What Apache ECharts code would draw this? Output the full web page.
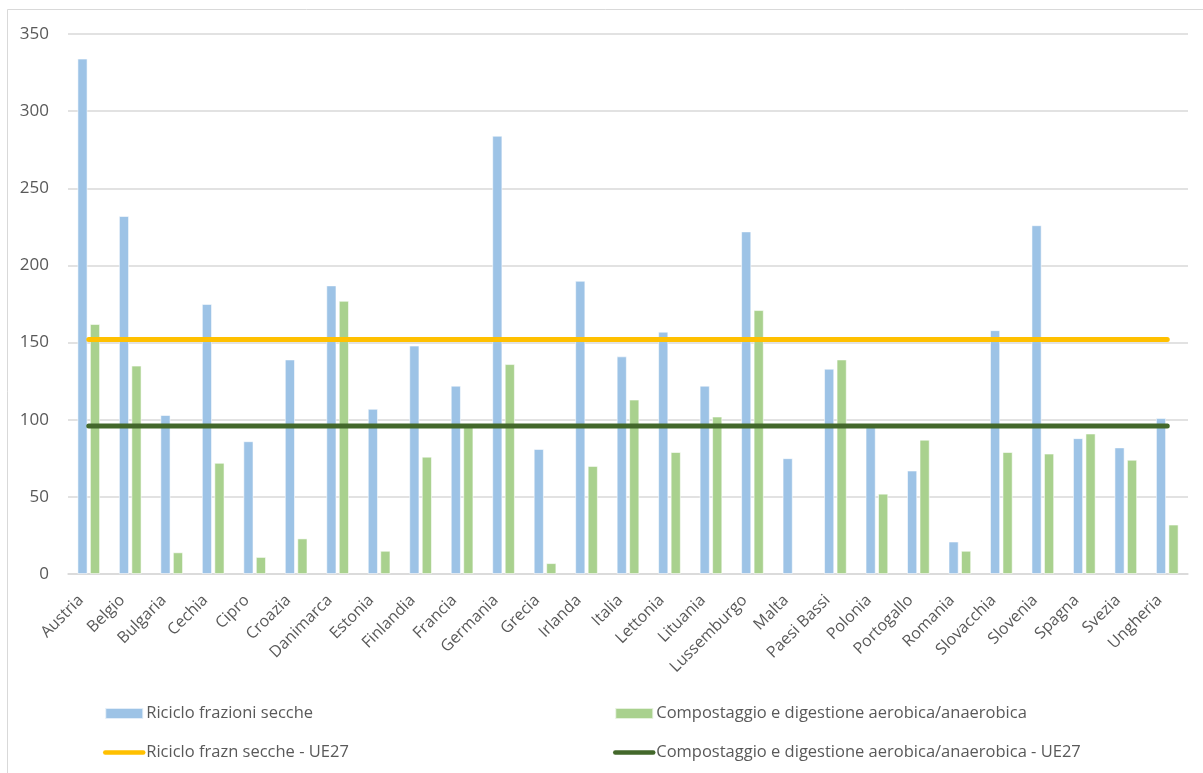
<!DOCTYPE html>
<html>
<head>
<meta charset="utf-8">
<script src="https://cdn.jsdelivr.net/npm/echarts@6/dist/echarts.min.js"></script>
<style>
  html, body { margin: 0; padding: 0; background: #fff; }
  #chart { width: 1203px; height: 773px; }
</style>
</head>
<body>
<div id="chart"></div>
<script>
// Paesi UE27
const paesi = ['Austria', 'Belgio', 'Bulgaria', 'Cechia', 'Cipro', 'Croazia', 'Danimarca', 'Estonia',
  'Finlandia', 'Francia', 'Germania', 'Grecia', 'Irlanda', 'Italia', 'Lettonia', 'Lituania',
  'Lussemburgo', 'Malta', 'Paesi Bassi', 'Polonia', 'Portogallo', 'Romania', 'Slovacchia',
  'Slovenia', 'Spagna', 'Svezia', 'Ungheria'];

// Riciclo frazioni secche
const riciclo = [334, 232, 103, 175, 86, 139, 187, 107, 148, 122, 284, 81, 190, 141, 157, 122,
  222, 75, 133, 96, 67, 21, 158, 226, 88, 82, 101];

// Compostaggio e digestione aerobica/anaerobica
const compostaggio = [162, 135, 14, 72, 11, 23, 177, 15, 76, 96, 136, 7, 70, 113, 79, 102,
  171, null, 139, 52, 87, 15, 79, 78, 91, 74, 32];

// Medie UE27
const mediaRicicloUE27 = 152;
const mediaCompostaggioUE27 = 96;

// Tacche asse Y
const yMin = 0, yMax = 350, yPasso = 50;

const nomi = {
  riciclo: 'Riciclo frazioni secche',
  compost: 'Compostaggio e digestione aerobica/anaerobica',
  ricicloUE: 'Riciclo frazn secche - UE27',
  compostUE: 'Compostaggio e digestione aerobica/anaerobica - UE27'
};

const testo = '#595959';
const font = '"Open Sans", "Liberation Sans", sans-serif';

const chart = echarts.init(document.getElementById('chart'), null, { renderer: 'canvas' });

const legendaComune = {
  orient: 'vertical',
  top: 705,
  padding: 0,
  itemWidth: 38,
  itemHeight: 11,
  itemGap: 22,
  textStyle: { color: testo, fontSize: 16.5, fontFamily: font, padding: [0, 0, 0, -2] },
  selectedMode: false
};

// le voci delle linee mostrano solo il tratto spesso, senza simbolo
const senzaSimbolo = { opacity: 0 };
const trattoLegenda = { width: 4.5, cap: 'round' };

chart.setOption({
  animation: false,
  backgroundColor: '#fff',
  graphic: [{
    type: 'rect',
    shape: { x: 7.5, y: 9.5, width: 1210, height: 780 },
    style: { fill: 'none', stroke: '#d9d9d9', lineWidth: 1 },
    silent: true
  }],
  grid: { left: 68, right: 15, top: 34, bottom: 199, containLabel: false },
  legend: [
    Object.assign({ left: 103, data: [
      { name: nomi.riciclo, icon: 'rect' },
      { name: nomi.ricicloUE, itemStyle: senzaSimbolo, lineStyle: trattoLegenda }
    ] }, legendaComune),
    Object.assign({ left: 613, data: [
      { name: nomi.compost, icon: 'rect' },
      { name: nomi.compostUE, itemStyle: senzaSimbolo, lineStyle: trattoLegenda }
    ] }, legendaComune)
  ],
  xAxis: {
    type: 'category',
    data: paesi,
    boundaryGap: true,
    axisLine: { lineStyle: { color: '#d9d9d9', width: 1.5 } },
    axisTick: { show: false },
    axisLabel: {
      interval: 0,
      rotate: 45,
      margin: 16,
      padding: [0, 11, 0, 0],
      color: testo,
      fontSize: 16,
      fontFamily: font
    }
  },
  yAxis: {
    type: 'value',
    min: yMin,
    max: yMax,
    interval: yPasso,
    axisLine: { show: false },
    axisTick: { show: false },
    splitLine: { lineStyle: { color: '#d9d9d9', width: 1.5 } },
    axisLabel: { color: testo, fontSize: 17, fontFamily: font, margin: 19 }
  },
  series: [
    {
      name: nomi.riciclo,
      type: 'bar',
      data: riciclo,
      barWidth: 10,
      barGap: '25%',
      itemStyle: { color: '#9dc3e6', borderColor: 'rgba(255,255,255,0.7)', borderWidth: 0.8 },
      z: 2
    },
    {
      name: nomi.compost,
      type: 'bar',
      data: compostaggio,
      barWidth: 10,
      barGap: '25%',
      itemStyle: { color: '#a9d18e', borderColor: 'rgba(255,255,255,0.7)', borderWidth: 0.8 },
      z: 2
    },
    {
      name: nomi.ricicloUE,
      type: 'line',
      data: paesi.map(() => mediaRicicloUE27),
      symbol: 'none',
      lineStyle: { color: '#ffc000', width: 5, cap: 'round' },
      itemStyle: { color: '#ffc000' },
      z: 4
    },
    {
      name: nomi.compostUE,
      type: 'line',
      data: paesi.map(() => mediaCompostaggioUE27),
      symbol: 'none',
      lineStyle: { color: '#43682b', width: 5, cap: 'round' },
      itemStyle: { color: '#43682b' },
      z: 5
    }
  ]
});
</script>
</body>
</html>
